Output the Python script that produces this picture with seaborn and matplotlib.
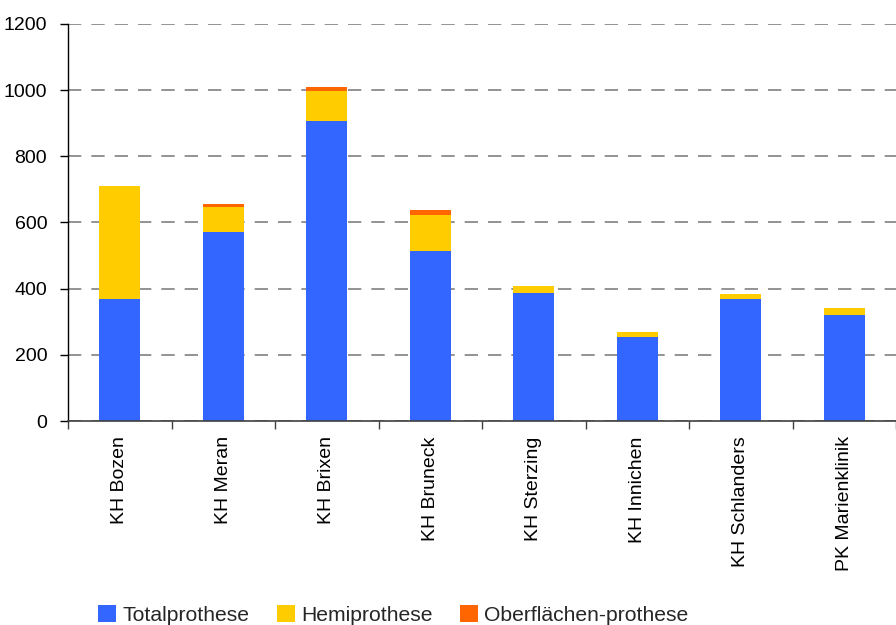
import numpy as np
import pandas as pd
import matplotlib
matplotlib.use("Agg")
import matplotlib.pyplot as plt
from matplotlib.patches import Patch
import seaborn as sns

# Hip prosthesis counts per hospital
hospitals = ["KH Bozen", "KH Meran", "KH Brixen", "KH Bruneck",
             "KH Sterzing", "KH Innichen", "KH Schlanders", "PK Marienklinik"]
totalprothese = [369, 571, 907, 514, 387, 254, 369, 320]
hemiprothese = [341, 76, 91, 109, 21, 15, 15, 22]
oberflaechen = [0, 9, 12, 15, 0, 0, 0, 0]

series = ["Totalprothese", "Hemiprothese", "Oberflächen-prothese"]
colors = ["#3366FF", "#FFCC00", "#FF6600"]
yticks = [0, 200, 400, 600, 800, 1000, 1200]

sns.set_theme(style="white")
plt.rcParams["font.family"] = ["Liberation Sans", "DejaVu Sans"]

df = pd.DataFrame({
    "Krankenhaus": hospitals,
    "Totalprothese": totalprothese,
    "Hemiprothese": hemiprothese,
    "Oberflächen-prothese": oberflaechen,
})
cum = df[series].cumsum(axis=1)

fig = plt.figure(figsize=(8.96, 6.25), dpi=100)
ax = fig.add_axes([68 / 896, 1 - 421 / 625, (896 - 68) / 896, (421 - 24) / 625])

# stacked bars: draw cumulative heights from tallest to shortest
for name, color in reversed(list(zip(series, colors))):
    sns.barplot(x=df["Krankenhaus"], y=cum[name], color=color, width=0.4,
                saturation=1, linewidth=0, edgecolor="none", ax=ax, zorder=2)

ax.set_ylim(0, 1200)
ax.set_yticks(yticks)
ax.set_xlim(-0.5, len(hospitals) - 0.5)
ax.set_xlabel("")
ax.set_ylabel("")

ax.set_axisbelow(True)
ax.yaxis.grid(True, linestyle=(0, (8, 6)), color="#808080", linewidth=1.2)
ax.xaxis.grid(False)

for side in ["top", "right"]:
    ax.spines[side].set_visible(False)
ax.spines["left"].set_color("black")
ax.spines["left"].set_linewidth(1.0)
ax.spines["bottom"].set_color("#404040")
ax.spines["bottom"].set_linewidth(1.2)

ax.set_xticks(np.arange(-0.5, len(hospitals), 1), minor=True)
ax.tick_params(axis="x", which="major", length=0, pad=11, labelsize=14,
               labelrotation=90, colors="black")
ax.tick_params(axis="x", which="minor", length=6, width=1.0, color="#404040",
               direction="out", bottom=True)
ax.tick_params(axis="y", which="major", length=6, width=1.0, color="black",
               direction="out", left=True, pad=9, labelsize=14, labelcolor="black")

handles = [Patch(facecolor=c, edgecolor="none", label=s) for s, c in zip(series, colors)]
fig.legend(handles=handles, loc="center left", bbox_to_anchor=(98 / 896, 1 - 615 / 625),
           ncol=3, frameon=False, fontsize=15.2, handlelength=0.85, handleheight=0.85,
           handletextpad=0.3, columnspacing=1.3, borderpad=0, borderaxespad=0)

fig.savefig("out.png", dpi=100)
